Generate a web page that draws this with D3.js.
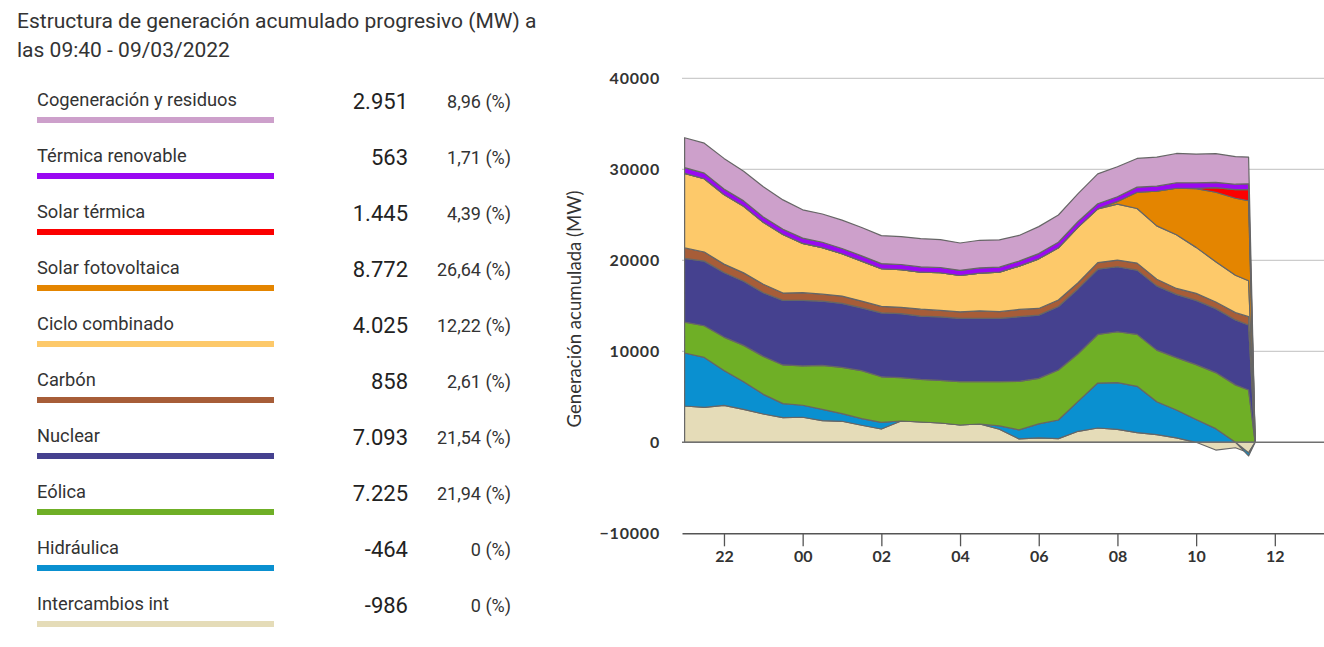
<!DOCTYPE html>
<html lang="es">
<head>
    <meta charset="utf-8">
    <title>Estructura de generación acumulado progresivo (MW)</title>
    <script type="text/javascript" src="https://d3js.org/d3.v7.min.js"></script>

    <style type="text/css">
        body { margin: 0; background: #fff; }
        .leyenda text { font-family: Roboto, sans-serif; }
        .grafico text { font-family: Lato, sans-serif; fill: #333; }
    </style>
</head>

<body>
<script type="text/javascript">

// horas de lectura (08/03 noche -> 09/03 mañana)
var horas = ["21:00","21:30","22:00","22:30","23:00","23:30","00:00","00:30","01:00","01:30",
             "02:00","02:30","03:00","03:30","04:00","04:30","05:00","05:30","06:00","06:30",
             "07:00","07:30","08:00","08:30","09:00","09:30","10:00","10:30","11:00","11:20","11:30"];

// MW por tecnologia
var intercambios = [3990,3840,4060,3620,3110,2710,2750,2380,2310,1870,1460,2340,2230,2120,1900,2010,
                    1430,370,480,400,1210,1570,1430,1060,840,480,0,-850,-600,-1150,0];
var hidraulica   = [5820,5490,3840,3040,2160,1540,1320,1240,840,730,730,0,0,0,0,0,
                    370,990,1540,2050,3290,4940,5120,5090,3620,3070,2500,1500,0,-350,0];
var eolica       = [3400,3480,3660,3990,4170,4250,4320,4830,5090,5270,5010,4760,4680,4680,4760,4650,
                    4870,5340,5010,5490,5230,5340,5600,5710,5670,5750,6040,6160,6310,5750,0];
var nuclear      = [7000,7100,7100,7050,7000,7100,7200,7060,7030,6900,7030,7030,6950,6990,6950,6950,
                    6950,7100,6950,6990,7150,7170,7140,7060,7060,6950,7060,7030,7140,7140,0];
var carbon       = [1150,1000,920,920,920,800,850,770,800,750,700,700,770,700,730,840,
                    730,800,730,700,650,730,730,770,730,660,770,730,800,920,0];
var cicloComb    = [8200,8050,7650,7320,6810,6440,5420,5120,4650,4390,4140,4140,4060,4140,3990,4140,
                    4350,4760,5450,5750,6110,5900,6150,6000,5860,5890,5050,4430,4100,3950,0];
var fotovoltaica = [0,0,0,0,0,0,0,0,0,0,0,0,0,0,0,0,
                    0,0,0,0,0,0,300,1790,3810,5120,6440,7630,8470,8780,0];
var termosolar   = [0,0,0,0,0,0,0,0,0,0,0,0,0,0,0,0,
                    0,0,0,0,0,0,0,0,0,0,60,500,950,1250,0];
var termRenov    = [620,620,600,590,580,580,580,580,580,580,570,570,580,580,570,570,
                    550,550,580,600,620,560,520,560,560,600,600,590,590,620,0];
var cogeneracion = [3290,3290,3370,3260,3330,3220,3110,3110,3110,3110,3070,3070,3110,3070,3000,3040,
                    3000,2820,2960,3000,3070,3290,3290,3150,3180,3220,3150,3150,3040,2930,0];

// leyenda (de arriba a abajo)
var tecnologias = ["Cogeneración y residuos","Térmica renovable","Solar térmica","Solar fotovoltaica",
                   "Ciclo combinado","Carbón","Nuclear","Eólica","Hidráulica","Intercambios int"];
var colores = ["#cda0cb","#9a08f2","#fb0000","#e48500","#fdc96a","#a75d38","#45418f","#6faf26","#0a90d0","#e5dcb8"];
var valoresLeyenda = ["2.951","563","1.445","8.772","4.025","858","7.093","7.225","-464","-986"];
var porcentajes = ["8,96","1,71","4,39","26,64","12,22","2,61","21,54","21,94","0","0"];

var ticksY = [-10000, 0, 10000, 20000, 30000, 40000];
var horasEje = ["22","00","02","04","06","08","10","12"];

function aFecha(txt) {
    var p = txt.split(":"), h = +p[0], m = p[1] ? +p[1] : 0;
    return new Date(2022, 2, h >= 20 ? 8 : 9, h, m);
}

var series = [cogeneracion, termRenov, termosolar, fotovoltaica, cicloComb, carbon, nuclear, eolica, hidraulica, intercambios];

var tabla = horas.map(function(h, i) {
    var fila = { fecha: aFecha(h) };
    tecnologias.forEach(function(t, k) { fila[t] = series[k][i]; });
    return fila;
});

var svg = d3.select("body").append("svg")
    .attr("width", 1324)
    .attr("height", 647);

// ---- panel izquierdo ----
var ley = svg.append("g").attr("class", "leyenda");

ley.append("text").attr("x", 17).attr("y", 28)
    .style("font-size", "21px").attr("fill", "#333")
    .text("Estructura de generación acumulado progresivo (MW) a");
ley.append("text").attr("x", 17).attr("y", 57)
    .style("font-size", "21px").attr("fill", "#333")
    .text("las 09:40 - 09/03/2022");

var filas = ley.selectAll(".fila")
    .data(tecnologias)
    .enter()
    .append("g")
    .attr("class", "fila")
    .attr("transform", function(d, i) { return "translate(0," + (56 * i) + ")"; });

filas.append("text")
    .attr("x", 37).attr("y", 106)
    .style("font-size", "18.3px").attr("fill", "#333")
    .text(function(d) { return d; });

filas.append("rect")
    .attr("x", 37).attr("y", 117)
    .attr("width", 237).attr("height", 6)
    .attr("fill", function(d, i) { return colores[i]; });

filas.append("text")
    .attr("x", 408).attr("y", 109)
    .attr("text-anchor", "end")
    .style("font-size", "22px").attr("fill", "#222")
    .text(function(d, i) { return valoresLeyenda[i]; });

filas.append("text")
    .attr("x", 511).attr("y", 108)
    .attr("text-anchor", "end")
    .style("font-size", "18px").attr("fill", "#333")
    .text(function(d, i) { return porcentajes[i] + " (%)"; });

// ---- grafico de areas ----
var g = svg.append("g").attr("class", "grafico");

var x = d3.scaleTime()
    .domain([new Date(2022, 2, 8, 20, 56), new Date(2022, 2, 9, 13, 15)])
    .range([682, 1324]);

var y = d3.scaleLinear()
    .domain([-10000, 40000])
    .range([533.3, 78.3]);

// como stackOffsetDiverging, pero los ceros quedan arriba
function apilarDivergente(ss, order) {
    var n = ss.length, m = ss[0].length;
    for (var j = 0; j < m; ++j) {
        var yp = 0, yn = 0;
        for (var i = 0; i < n; ++i) {
            var d = ss[order[i]][j], dy = d[1] - d[0];
            if (dy < 0) { d[1] = yn; d[0] = yn += dy; }
            else { d[0] = yp; d[1] = yp += dy; }
        }
    }
}

var claves = tecnologias.slice().reverse();
var pila = d3.stack().keys(claves).offset(apilarDivergente)(tabla);

// rejilla
g.selectAll(".rejilla")
    .data(ticksY.filter(function(v) { return v > 0; }))
    .enter()
    .append("line")
    .attr("x1", 682).attr("x2", 1324)
    .attr("y1", function(d) { return y(d); })
    .attr("y2", function(d) { return y(d); })
    .attr("stroke", "#cccccc")
    .attr("stroke-width", 1.2);

var area = d3.area()
    .x(function(d) { return x(d.data.fecha); })
    .y0(function(d) { return y(d[0]); })
    .y1(function(d) { return y(d[1]); });

g.selectAll(".capa")
    .data(pila)
    .enter()
    .append("path")
    .attr("class", "capa")
    .attr("d", area)
    .attr("fill", function(d) { return colores[tecnologias.indexOf(d.key)]; })
    .attr("stroke", "#666")
    .attr("stroke-width", 1.2)
    .attr("stroke-linejoin", "round");

// linea de cero
g.append("line")
    .attr("x1", 682).attr("x2", 1324)
    .attr("y1", y(0)).attr("y2", y(0))
    .attr("stroke", "#707070")
    .attr("stroke-width", 1.6);

// etiquetas eje Y
g.selectAll(".etqY")
    .data(ticksY)
    .enter()
    .append("text")
    .attr("x", 660)
    .attr("y", function(d) { return y(d); })
    .attr("dy", "0.35em")
    .attr("text-anchor", "end")
    .style("font-size", "16px")
    .style("font-weight", "bold")
    .style("letter-spacing", "0.8px")
    .text(function(d) { return d < 0 ? "\u2212" + (-d) : d; });

g.append("text")
    .attr("transform", "translate(581,309) rotate(-90)")
    .attr("text-anchor", "middle")
    .style("font-size", "18.6px")
    .text("Generación acumulada (MW)");

// eje X abajo
var ejeX = d3.axisBottom(x)
    .tickValues(horasEje.map(aFecha))
    .tickFormat(d3.timeFormat("%H"))
    .tickSize(13)
    .tickSizeOuter(0);

var gx = g.append("g")
    .attr("transform", "translate(0," + y(-10000) + ")")
    .call(ejeX);

gx.select(".domain").attr("stroke", "#555").attr("stroke-width", 1.6);
gx.selectAll(".tick line").attr("stroke", "#555").attr("stroke-width", 1.3);
gx.selectAll(".tick text")
    .attr("y", 17)
    .style("font-family", "Lato, sans-serif")
    .style("font-size", "16px")
    .style("font-weight", "bold")
    .attr("fill", "#333");

</script>
</body>
</html>
